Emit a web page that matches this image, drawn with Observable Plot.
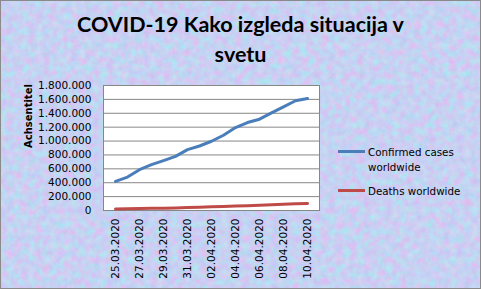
<!DOCTYPE html>
<html>
<head>
<meta charset="utf-8">
<script src="https://cdn.jsdelivr.net/npm/d3@7"></script>
<script src="https://cdn.jsdelivr.net/npm/@observablehq/plot@0.6"></script>
<style>
  body { margin: 0; background: #fff; }
  #chart { position: relative; width: 481px; height: 289px; overflow: hidden; }
  #chart > * { position: absolute; left: 0; top: 0; }
  #title {
    width: 481px; top: 9px; text-align: center;
    font-family: Lato, "Open Sans", sans-serif; font-weight: bold;
    font-size: 21.5px; line-height: 30px; color: #000;
  }
  .legend-item { position: absolute; white-space: nowrap; font-family: "DejaVu Sans", sans-serif; font-size: 10.3px; line-height: 14.6px; color: #000; }
  .legend-swatch { position: absolute; height: 3px; width: 27px; }
  #frameBorder { width: 481px; height: 289px; box-sizing: border-box; border: 1px solid #8a8a8a; pointer-events: none; }
</style>
</head>
<body>
<div id="chart">
  <svg id="texture" width="481" height="289">
    <filter id="paper" x="0" y="0" width="100%" height="100%" color-interpolation-filters="sRGB">
      <feTurbulence type="fractalNoise" baseFrequency="0.14" numOctaves="3" seed="7"/>
      <feColorMatrix type="matrix"
        values="0.26 -0.16 0 0 0.73
                -0.10 0.22 0 0 0.76
                0 0 0.06 0 0.92
                0 0 0 0 1"/>
    </filter>
    <rect width="481" height="289" filter="url(#paper)"/>
  </svg>
  <div id="plot"></div>
  <div id="title">COVID-19 Kako izgleda situacija v<br>svetu</div>
  <div id="legend"></div>
  <div id="frameBorder"></div>
</div>
<script>
// Daily dates on the category axis
const dates = [
  "25.03.2020", "26.03.2020", "27.03.2020", "28.03.2020", "29.03.2020",
  "30.03.2020", "31.03.2020", "01.04.2020", "02.04.2020", "03.04.2020",
  "04.04.2020", "05.04.2020", "06.04.2020", "07.04.2020", "08.04.2020",
  "09.04.2020", "10.04.2020"
];
// Cumulative confirmed cases worldwide
const confirmed = [
  419000, 481000, 588000, 660000, 718000, 780000, 877000, 929000, 997000,
  1084000, 1195000, 1267000, 1315000, 1406000, 1493000, 1580000, 1614000
];
// Cumulative deaths worldwide
const deaths = [
  21181, 24084, 27324, 30857, 33985, 37582, 42097, 47180, 52975,
  58787, 64606, 69374, 74565, 81865, 88338, 95455, 102525
];
const seriesNames = ["Confirmed cases worldwide", "Deaths worldwide"];
const seriesColors = ["#4a7ebb", "#be4b48"];
const yTicks = [0, 200000, 400000, 600000, 800000, 1000000, 1200000, 1400000, 1600000, 1800000];
const xTickLabels = dates.filter((d, i) => i % 2 === 0);
const yTitle = "Achsentitel";

const rows = dates.flatMap((date, i) => [
  {date, series: seriesNames[0], value: confirmed[i]},
  {date, series: seriesNames[1], value: deaths[i]}
]);

const fmt = d => d3.format(",")(d).replace(/,/g, ".");

const chart = Plot.plot({
  width: 481,
  height: 289,
  marginLeft: 103,
  marginRight: 162,
  marginTop: 85,
  marginBottom: 79,
  style: {background: "transparent", fontFamily: "DejaVu Sans, sans-serif", fontSize: "10.5px", color: "#000"},
  x: {type: "point", domain: dates, padding: 0.5},
  y: {domain: [0, 1800000]},
  color: {domain: seriesNames, range: seriesColors},
  marks: [
    Plot.frame({fill: "white", stroke: "none"}),
    Plot.gridY(yTicks, {stroke: "#878787", strokeOpacity: 1, strokeWidth: 1}),
    Plot.frame({stroke: "#878787", strokeWidth: 1}),
    Plot.lineY(rows, {x: "date", y: "value", stroke: "series", strokeWidth: 3, strokeLinejoin: "round", strokeLinecap: "round"}),
    Plot.axisY(yTicks, {tickSize: 0, tickPadding: 12, tickFormat: fmt, label: null}),
    Plot.axisX(xTickLabels, {tickSize: 0, tickRotate: -90, tickPadding: 8, label: null}),
    Plot.text([yTitle], {frameAnchor: "left", dx: -75, rotate: -90, fontWeight: "bold", fontSize: 10, fill: "#000"})
  ]
});
document.getElementById("plot").append(chart);

// Legend to the right of the plot area
const legend = document.getElementById("legend");
const legendItems = [
  {label: "Confirmed cases<br>worldwide", color: seriesColors[0], lineY: 150, textY: 145},
  {label: "Deaths worldwide", color: seriesColors[1], lineY: 189, textY: 184}
];
for (const item of legendItems) {
  const sw = document.createElement("div");
  sw.className = "legend-swatch";
  sw.style.cssText = `left:338px;top:${item.lineY}px;background:${item.color};`;
  legend.append(sw);
  const tx = document.createElement("div");
  tx.className = "legend-item";
  tx.style.cssText = `left:368px;top:${item.textY}px;`;
  tx.innerHTML = item.label;
  legend.append(tx);
}
</script>
</body>
</html>
